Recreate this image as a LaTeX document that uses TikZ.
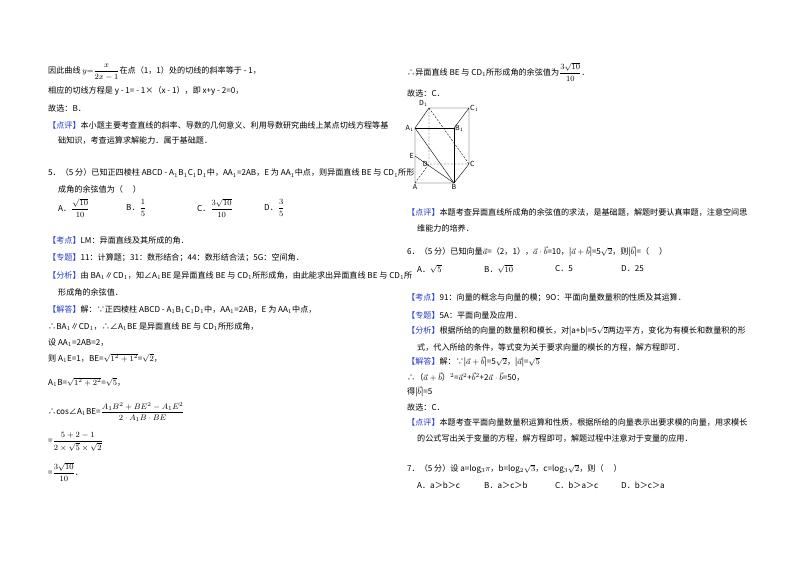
\documentclass[tikz,border=0pt]{standalone}
\usepackage{fontspec}
\usepackage{amsmath}
\setmainfont{Noto Sans CJK SC}
\definecolor{tagblue}{RGB}{40,60,200}
\newcommand{\tg}[1]{\textcolor{tagblue}{【#1】}}
\begin{document}
\begin{tikzpicture}[x=1pt,y=-1pt,
  t/.style={anchor=west,inner sep=0pt,font=\fontsize{8.1}{10}\selectfont},
  fig/.style={line width=0.4pt},
  hid/.style={line width=0.4pt,dashed,dash pattern=on 2pt off 1.5pt}]
\useasboundingbox[fill=white] (0,0) rectangle (800,565);
% left column
\node[t] (l1) at (48,72) {因此曲线 $y{=}\dfrac{x}{2x-1}$在点（1，1）处的切线的斜率等于 - 1，};
\node[t] (l2) at (48,91) {相应的切线方程是 y - 1= - 1×（x - 1），即 x+y - 2=0，};
\node[t] (l3) at (48,108) {故选：B．};
\node[t] (l4) at (48,125) {\tg{点评}本小题主要考查直线的斜率、导数的几何意义、利用导数研究曲线上某点切线方程等基};
\node[t] (l5) at (58,141) {础知识，考查运算求解能力．属于基础题．};
\node[t] (l6) at (48,173) {5．（5 分）已知正四棱柱 ABCD - A$_1$B$_1$C$_1$D$_1$中，AA$_1$=2AB，E 为 AA$_1$中点，则异面直线 BE 与 CD$_1$所形};
\node[t] (l7) at (58,189) {成角的余弦值为（\quad\ ）};
\node[t] (o1) at (58,208) {A．$\dfrac{\sqrt{10}}{10}$};
\node[t] (o2) at (126,208) {B．$\dfrac{1}{5}$};
\node[t] (o3) at (197,208) {C．$\dfrac{3\sqrt{10}}{10}$};
\node[t] (o4) at (264,208) {D．$\dfrac{3}{5}$};
\node[t] (l8) at (48,240) {\tg{考点}LM：异面直线及其所成的角．};
\node[t] (l9) at (48,258) {\tg{专题}11：计算题；31：数形结合；44：数形结合法；5G：空间角．};
\node[t] (l10) at (48,276) {\tg{分析}由 BA$_1$∥CD$_1$，知∠A$_1$BE 是异面直线 BE 与 CD$_1$所形成角，由此能求出异面直线 BE 与 CD$_1$所};
\node[t] (l11) at (58,292) {形成角的余弦值．};
\node[t] (l12) at (48,310) {\tg{解答}解：∵正四棱柱 ABCD - A$_1$B$_1$C$_1$D$_1$中，AA$_1$=2AB，E 为 AA$_1$中点，};
\node[t] (l13) at (48,327) {∴BA$_1$∥CD$_1$，∴∠A$_1$BE 是异面直线 BE 与 CD$_1$所形成角，};
\node[t] (l14) at (48,343) {设 AA$_1$=2AB=2，};
\node[t] (l15) at (48,358) {则 A$_1$E=1，BE=$\sqrt{1^2+1^2}$=$\sqrt{2}$，};
\node[t] (l16) at (48,382) {A$_1$B=$\sqrt{1^2+2^2}$=$\sqrt{5}$，};
\node[t] (l17) at (48,412) {∴cos∠A$_1$BE=$\dfrac{A_1B^2+BE^2-A_1E^2}{2\cdot A_1B\cdot BE}$};
\node[t] (l18) at (48,442) {=$\dfrac{5+2-1}{2\times\sqrt{5}\times\sqrt{2}}$};
\node[t] (l19) at (48,472) {=$\dfrac{3\sqrt{10}}{10}$．};
% right column
\node[t] (r1) at (407,72) {∴异面直线 BE 与 CD$_1$所形成角的余弦值为$\dfrac{3\sqrt{10}}{10}$．};
\node[t] (r2) at (407,93) {故选：C．};
% cube
\coordinate (A) at (415,183); \coordinate (B) at (454,183);
\coordinate (C) at (469,164); \coordinate (D) at (429,164);
\coordinate (A1) at (415,128); \coordinate (B1) at (454,128);
\coordinate (C1) at (469,108); \coordinate (D1) at (429,108);
\coordinate (E) at (415,156);
\draw[fig] (A)--(B)--(C)--(C1)--(D1)--(A1)--cycle (C1)--(B1);
\draw[line width=0.9pt] (A1)--(B1)--(B);
\draw[fig] (A1)--(B) (E)--(B);
\draw[hid] (D1)--(D) (A)--(D)--(C) (D1)--(C);
\begin{scope}[every node/.style={inner sep=1pt,font=\itshape\fontsize{7}{8}\selectfont}]
\node[above left] (nD1) at (D1) {D$_1$};
\node[right] (nC1) at (C1) {C$_1$};
\node[left] (nA1) at (A1) {A$_1$};
\node[right] (nB1) at (B1) {B$_1$};
\node[left] (nE) at (E) {E};
\node[left] (nD) at (D) {D};
\node[right] (nC) at (C) {C};
\node[below] (nA) at (A) {A};
\node[below] (nB) at (B) {B};
\end{scope}
\node[t] (r3) at (407,212) {\tg{点评}本题考查异面直线所成角的余弦值的求法，是基础题，解题时要认真审题，注意空间思};
\node[t] (r4) at (417,228) {维能力的培养．};
\node[t] (r5) at (407,252) {6．（5 分）已知向量$\vec{a}$=（2，1），$\vec{a}\cdot\vec{b}$=10，|$\vec{a}+\vec{b}$|=5$\sqrt{2}$，则|$\vec{b}$|=（\quad\ ）};
\node[t] (p1) at (417,269) {A．$\sqrt{5}$};
\node[t] (p2) at (484,269) {B．$\sqrt{10}$};
\node[t] (p3) at (555,269) {C．5};
\node[t] (p4) at (621,269) {D．25};
\node[t] (r6) at (407,298) {\tg{考点}91：向量的概念与向量的模；9O：平面向量数量积的性质及其运算．};
\node[t] (r7) at (407,315) {\tg{专题}5A：平面向量及应用．};
\node[t] (r8) at (407,331) {\tg{分析}根据所给的向量的数量积和模长，对|a+b|=5$\sqrt{2}$两边平方，变化为有模长和数量积的形};
\node[t] (r9) at (417,347) {式，代入所给的条件，等式变为关于要求向量的模长的方程，解方程即可．};
\node[t] (r10) at (407,362) {\tg{解答}解：∵|$\vec{a}+\vec{b}$|=5$\sqrt{2}$，|$\vec{a}$|=$\sqrt{5}$};
\node[t] (r11) at (407,377) {∴（$\vec{a}+\vec{b}$）$^2$=$\vec{a}^2$+$\vec{b}^2$+2$\vec{a}\cdot\vec{b}$=50，};
\node[t] (r12) at (407,392) {得|$\vec{b}$|=5};
\node[t] (r13) at (407,407) {故选：C．};
\node[t] (r14) at (407,422) {\tg{点评}本题考查平面向量数量积运算和性质，根据所给的向量表示出要求模的向量，用求模长};
\node[t] (r15) at (417,438) {的公式写出关于变量的方程，解方程即可，解题过程中注意对于变量的应用．};
\node[t] (r16) at (407,469) {7．（5 分）设 a=log$_3\pi$，b=log$_2\sqrt{3}$，c=log$_3\sqrt{2}$，则（\quad\ ）};
\node[t] (q1) at (417,485) {A．a＞b＞c};
\node[t] (q2) at (484,485) {B．a＞c＞b};
\node[t] (q3) at (555,485) {C．b＞a＞c};
\node[t] (q4) at (621,485) {D．b＞c＞a};
\end{tikzpicture}
\end{document}
